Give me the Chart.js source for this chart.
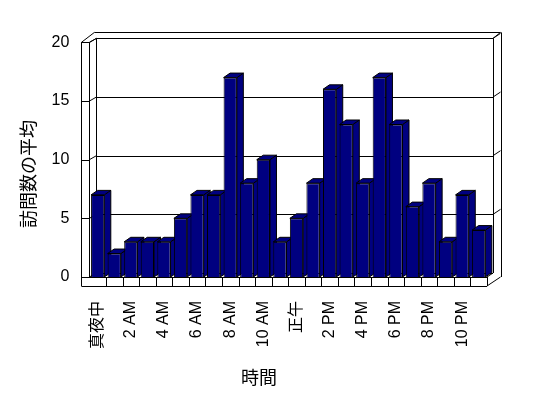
<!DOCTYPE html>
<html lang="ja">
<head>
<meta charset="UTF-8">
<title>訪問数の平均</title>
<style>
  body { margin: 0; background: #fff; }
</style>
</head>
<body>
<canvas id="grafica" width="548" height="398"></canvas>
<script src="https://cdn.jsdelivr.net/npm/chart.js"></script>
<script>
// datos
const horas = ['真夜中', '1 AM', '2 AM', '3 AM', '4 AM', '5 AM', '6 AM', '7 AM', '8 AM', '9 AM', '10 AM', '11 AM',
               '正午', '1 PM', '2 PM', '3 PM', '4 PM', '5 PM', '6 PM', '7 PM', '8 PM', '9 PM', '10 PM', '11 PM'];
const visitas = [7, 2, 3, 3, 3, 5, 7, 7, 17, 8, 10, 3, 5, 8, 16, 13, 8, 17, 13, 6, 8, 3, 7, 4];
const marcasY = [0, 5, 10, 15, 20];
const tituloX = '時間';
const tituloY = '訪問数の平均';

const azul = '#000080';
const fuenteNum = '"Liberation Sans", "Noto Sans CJK JP"';
const fuenteJp = '"Noto Sans CJK JP"';

function linea(ctx, x1, y1, x2, y2) {
    if (x1 === x2) { x1 = x2 = Math.round(x1) + 0.5; }
    if (y1 === y2) { y1 = y2 = Math.round(y1) + 0.5; }
    ctx.beginPath();
    ctx.moveTo(x1, y1);
    ctx.lineTo(x2, y2);
    ctx.stroke();
}

function poligono(ctx, pts) {
    ctx.beginPath();
    ctx.moveTo(pts[0][0], pts[0][1]);
    for (let i = 1; i < pts.length; i++) ctx.lineTo(pts[i][0], pts[i][1]);
    ctx.closePath();
    ctx.fill();
    ctx.stroke();
}

// paredes, piso y lineas de grilla en 3D
const fondo3d = {
    id: 'fondo3d',
    beforeDatasetsDraw(chart) {
        const ctx = chart.ctx;
        const a = chart.chartArea;
        const ey = chart.scales.y;
        const ex = chart.scales.x;
        const dx = 7, dy = 4;
        const izqFuera = a.left - 8;
        const izq = a.left;
        const atrasIzq = a.left + dx;
        const atrasDer = a.right + 6;
        const derFuera = atrasDer + 7.5;
        const pisoAbajo = a.bottom + 9;
        const arribaFrente = ey.getPixelForValue(marcasY[marcasY.length - 1]);
        const arribaAtras = arribaFrente - dy;
        const arribaFuera = arribaAtras - 6;
        const pisoAtras = a.bottom - dy;

        ctx.save();
        ctx.strokeStyle = '#000';
        ctx.lineWidth = 1;

        // pared del fondo
        linea(ctx, izqFuera + 13, arribaFuera, derFuera, arribaFuera);
        linea(ctx, derFuera, arribaFuera, derFuera, a.bottom);
        linea(ctx, atrasIzq, arribaAtras, atrasDer, arribaAtras);
        linea(ctx, atrasDer, arribaAtras, atrasDer, pisoAtras);
        linea(ctx, atrasDer, arribaAtras, derFuera, arribaFuera);
        linea(ctx, atrasIzq, arribaAtras, atrasIzq, pisoAtras);
        linea(ctx, atrasIzq, pisoAtras, atrasDer, pisoAtras);

        // pared izquierda
        linea(ctx, izqFuera, arribaFrente, izqFuera + 13, arribaFuera);
        linea(ctx, izq, arribaFrente, atrasIzq, arribaAtras);
        linea(ctx, izqFuera, arribaFrente, izq, arribaFrente);
        linea(ctx, izqFuera, arribaFrente, izqFuera, pisoAbajo);
        linea(ctx, izq, arribaFrente, izq, a.bottom);
        linea(ctx, izq, a.bottom, atrasIzq, pisoAtras);

        // grilla
        marcasY.slice(1).forEach(v => {
            const fy = ey.getPixelForValue(v);
            const by = fy - dy;
            linea(ctx, izqFuera, fy, izq, fy);
            linea(ctx, izq, fy, atrasIzq, by);
            linea(ctx, atrasIzq, by, atrasDer, by);
            linea(ctx, atrasDer, by, derFuera, by - 5);
        });

        // piso
        linea(ctx, izqFuera, a.bottom, a.right, a.bottom);
        linea(ctx, izqFuera, pisoAbajo, a.right, pisoAbajo);
        linea(ctx, a.right, a.bottom, atrasDer, pisoAtras);
        linea(ctx, a.right, pisoAbajo, derFuera, a.bottom);
        const paso = (a.right - a.left) / horas.length;
        for (let i = 1; i <= horas.length; i++) {
            linea(ctx, a.left + i * paso, a.bottom, a.left + i * paso, pisoAbajo);
        }

        // costados y techos de las barras
        const meta = chart.getDatasetMeta(0);
        const bx = 6.5, by = 4.5;
        ctx.fillStyle = azul;
        meta.data.forEach(el => {
            const p = el.getProps(['x', 'y', 'base', 'width'], true);
            const l = p.x - p.width / 2, r = p.x + p.width / 2;
            poligono(ctx, [[r, p.y], [r + bx, p.y - by], [r + bx, p.base - by], [r, p.base]]);
            poligono(ctx, [[l, p.y], [l + bx, p.y - by], [r + bx, p.y - by], [r, p.y]]);
        });
        ctx.restore();
    },
    afterDraw(chart) {
        const ctx = chart.ctx;
        ctx.save();
        ctx.fillStyle = '#000';
        ctx.font = '18px ' + fuenteJp;
        ctx.textAlign = 'center';
        ctx.textBaseline = 'middle';
        ctx.fillText(tituloX, 259, 377);
        ctx.translate(28, 174);
        ctx.rotate(-Math.PI / 2);
        ctx.fillText(tituloY, 0, 0);
        ctx.restore();
    }
};

const ctx = document.getElementById('grafica').getContext('2d');
const grafica = new Chart(ctx, {
    type: 'bar',
    data: {
        labels: horas,
        datasets: [{
            data: visitas,
            backgroundColor: azul,
            borderColor: '#000',
            borderWidth: 1,
            barPercentage: 0.8,
            categoryPercentage: 1
        }]
    },
    options: {
        responsive: false,
        animation: false,
        layout: { padding: { left: 0, top: 42.4, right: 61, bottom: 0 } },
        plugins: {
            legend: { display: false },
            tooltip: { enabled: false }
        },
        scales: {
            x: {
                grid: { display: false, drawTicks: false },
                border: { display: false },
                ticks: {
                    autoSkip: false,
                    maxRotation: 90,
                    minRotation: 90,
                    padding: 24,
                    color: '#000',
                    font: { family: fuenteNum, size: 16 },
                    callback: function (val, i) {
                        return i % 2 === 0 ? this.getLabelForValue(val) : '';
                    }
                },
                afterFit: s => { s.height = 121; }
            },
            y: {
                min: marcasY[0],
                max: marcasY[marcasY.length - 1],
                grid: { display: false, drawTicks: false },
                border: { display: false },
                ticks: {
                    stepSize: 5,
                    padding: 20,
                    color: '#000',
                    font: { family: fuenteNum, size: 16 }
                },
                afterFit: s => { s.width = 89.4; }
            }
        }
    },
    plugins: [fondo3d]
});
</script>
</body>
</html>
